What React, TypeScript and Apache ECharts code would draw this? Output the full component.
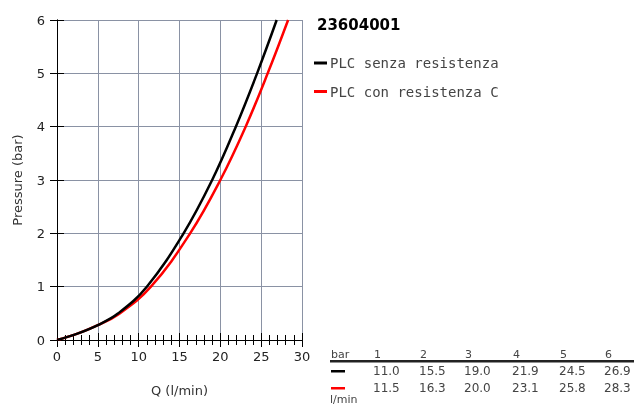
import React, { useEffect, useRef } from "react";
import * as echarts from "echarts";

const titleText = "23604001";
const seriesNames = ["PLC senza resistenza", "PLC con resistenza C"];
const seriesColors = ["#000000", "#ff0000"];
const pressureBars = [1, 2, 3, 4, 5, 6];
const flowBlack = [11.0, 15.5, 19.0, 21.9, 24.5, 26.9];
const flowRed = [11.5, 16.3, 20.0, 23.1, 25.8, 28.3];
// low-range points
const lowFlow = [0, 2.5, 5, 7.5];
const lowPressureBlack = [0, 0.12, 0.28, 0.5];
const lowPressureRed = [0, 0.12, 0.28, 0.48];

const FONT = "DejaVu Sans";

export default function App() {
  const ref = useRef<HTMLDivElement>(null);
  useEffect(() => {
    const chart = echarts.init(ref.current!, null, { renderer: "svg" });
    const blackData = [
      ...lowFlow.map((q, i) => [q, lowPressureBlack[i]]),
      ...flowBlack.map((q, i) => [q, pressureBars[i]]),
    ];
    const redData = [
      ...lowFlow.map((q, i) => [q, lowPressureRed[i]]),
      ...flowRed.map((q, i) => [q, pressureBars[i]]),
    ];
    const colX = [374, 420, 465, 513, 560, 605];
    const tableTexts: any[] = [];
    tableTexts.push({
      type: "text",
      left: 331,
      top: 349,
      style: { text: "bar", font: `11px ${FONT}`, fill: "#444" },
    });
    pressureBars.forEach((b, i) => {
      tableTexts.push({
        type: "text",
        left: colX[i],
        top: 349,
        style: { text: String(b), font: `11px ${FONT}`, fill: "#444" },
      });
      tableTexts.push({
        type: "text",
        left: colX[i] - 1,
        top: 365,
        style: { text: flowBlack[i].toFixed(1), font: `12px ${FONT}`, fill: "#444" },
      });
      tableTexts.push({
        type: "text",
        left: colX[i] - 1,
        top: 382,
        style: { text: flowRed[i].toFixed(1), font: `12px ${FONT}`, fill: "#444" },
      });
    });
    tableTexts.push({
      type: "rect",
      shape: { x: 330, y: 360, width: 304, height: 2.5 },
      style: { fill: "#222" },
    });
    tableTexts.push({
      type: "rect",
      shape: { x: 331, y: 370, width: 14, height: 2.5 },
      style: { fill: seriesColors[0] },
    });
    tableTexts.push({
      type: "rect",
      shape: { x: 331, y: 387, width: 14, height: 2.5 },
      style: { fill: seriesColors[1] },
    });
    tableTexts.push({
      type: "text",
      left: 330,
      top: 394,
      style: { text: "l/min", font: `11px ${FONT}`, fill: "#444" },
    });

    const gridLine = { show: true, lineStyle: { color: "#8a92a4", width: 1 } };
    chart.setOption({
      animation: false,
      textStyle: { fontFamily: FONT },
      title: {
        text: titleText,
        left: 312,
        top: 12,
        textStyle: { fontFamily: FONT, fontWeight: "bold", fontSize: 15, color: "#000" },
      },
      legend: {
        orient: "vertical",
        left: 309,
        top: 50,
        itemWidth: 13,
        itemHeight: 3,
        itemGap: 12.5,
        icon: "rect",
        data: seriesNames,
        textStyle: { fontFamily: "DejaVu Sans Mono", fontSize: 14, color: "#444", padding: [0, 0, 0, -2], lineHeight: 16 },
      },
      grid: { left: 57, right: 332, top: 20, bottom: 65 },
      xAxis: [
        {
          type: "value",
          min: 0,
          max: 30,
          interval: 5,
          name: "Q (l/min)",
          nameLocation: "middle",
          nameGap: 44,
          nameTextStyle: { fontSize: 13, color: "#333", fontFamily: FONT },
          axisLine: { show: true, lineStyle: { color: "#000", width: 1 } },
          axisTick: { show: true, inside: true, length: 7, lineStyle: { color: "#000" } },
          minorTick: { show: true, splitNumber: 5, length: 5, lineStyle: { color: "#000" } },
          axisLabel: { fontSize: 13, color: "#222", margin: 10, fontFamily: FONT },
          splitLine: gridLine,
        },
        {
          type: "value",
          min: 0,
          max: 30,
          interval: 5,
          position: "top",
          axisLine: { show: true, lineStyle: { color: "#000", width: 1 } },
          axisTick: { show: true, inside: true, length: 7, lineStyle: { color: "#000" } },
          minorTick: { show: true, splitNumber: 5, length: 5, lineStyle: { color: "#000" } },
          axisLabel: { show: false },
          splitLine: { show: false },
        },
      ],
      yAxis: [
        {
          type: "value",
          min: 0,
          max: 6,
          interval: 1,
          name: "Pressure (bar)",
          nameLocation: "middle",
          nameGap: 33,
          nameTextStyle: { fontSize: 13, color: "#333", fontFamily: FONT },
          axisLine: { show: true, lineStyle: { color: "#000", width: 1 } },
          axisTick: { show: true, inside: true, length: 7, lineStyle: { color: "#000" } },
          axisLabel: { fontSize: 13, color: "#222", margin: 12, fontFamily: FONT },
          splitLine: gridLine,
        },
        {
          type: "value",
          min: 0,
          max: 6,
          interval: 1,
          position: "right",
          axisLine: { show: true, lineStyle: { color: "#000", width: 1 } },
          axisTick: { show: true, inside: true, length: 7, lineStyle: { color: "#000" } },
          axisLabel: { show: false },
          splitLine: { show: false },
        },
      ],
      series: [
        {
          name: seriesNames[0],
          type: "line",
          data: blackData,
          smooth: 0.4,
          showSymbol: false,
          clip: true,
          lineStyle: { color: seriesColors[0], width: 2.5 },
          itemStyle: { color: seriesColors[0] },
          z: 3,
        },
        {
          name: seriesNames[1],
          type: "line",
          data: redData,
          smooth: 0.4,
          showSymbol: false,
          clip: true,
          lineStyle: { color: seriesColors[1], width: 2.5 },
          itemStyle: { color: seriesColors[1] },
          z: 2,
        },
      ],
      graphic: tableTexts,
    });
    return () => chart.dispose();
  }, []);
  return (
    <div
      ref={ref}
      style={{ position: "fixed", left: 0, top: 0, width: 634, height: 405 }}
    />
  );
}
